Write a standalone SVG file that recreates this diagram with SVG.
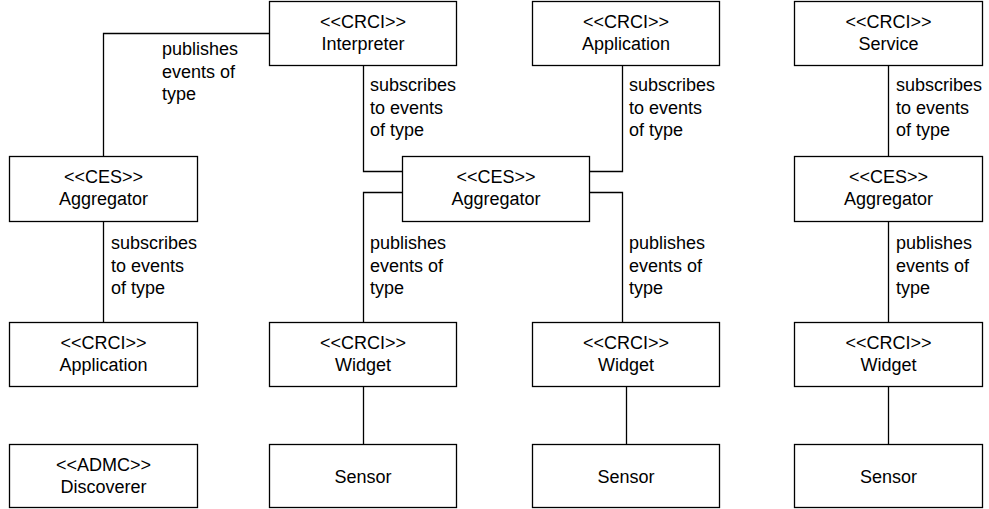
<svg xmlns="http://www.w3.org/2000/svg" width="989" height="509" viewBox="0 0 989 509">
  <style>
    .box { fill: #ffffff; stroke: #000000; stroke-width: 1.3; }
    .wire { fill: none; stroke: #000000; stroke-width: 1.3; }
    text { font-family: "Liberation Sans", Arial, sans-serif; font-size: 18px; fill: #000000; }
    .c { text-anchor: middle; }
  </style>
  <rect width="989" height="509" fill="#ffffff"/>

  <!-- connectors -->
  <g id="connectors">
    <path class="wire" d="M269 33.5 H103.5 V156"/>
    <path class="wire" d="M103.5 221 V322"/>
    <path class="wire" d="M363.5 65 V171.5 H402"/>
    <path class="wire" d="M402 192.5 H363.5 V322"/>
    <path class="wire" d="M622.5 65 V171.5 H589"/>
    <path class="wire" d="M589 192.5 H622.5 V322"/>
    <path class="wire" d="M363.5 386 V444"/>
    <path class="wire" d="M626.5 386 V444"/>
    <path class="wire" d="M888.5 65 V156"/>
    <path class="wire" d="M888.5 221 V322"/>
    <path class="wire" d="M888.5 386 V444"/>

    <text x="162" y="55">publishes</text>
    <text x="162" y="77.5">events of</text>
    <text x="162" y="100">type</text>

    <text x="370" y="91">subscribes</text>
    <text x="370" y="113.5">to events</text>
    <text x="370" y="136">of type</text>

    <text x="629" y="91">subscribes</text>
    <text x="629" y="113.5">to events</text>
    <text x="629" y="136">of type</text>

    <text x="896" y="91">subscribes</text>
    <text x="896" y="113.5">to events</text>
    <text x="896" y="136">of type</text>

    <text x="111" y="249">subscribes</text>
    <text x="111" y="271.5">to events</text>
    <text x="111" y="294">of type</text>

    <text x="370" y="249">publishes</text>
    <text x="370" y="271.5">events of</text>
    <text x="370" y="294">type</text>

    <text x="629" y="249">publishes</text>
    <text x="629" y="271.5">events of</text>
    <text x="629" y="294">type</text>

    <text x="896" y="249">publishes</text>
    <text x="896" y="271.5">events of</text>
    <text x="896" y="294">type</text>
  </g>

  <!-- top row -->
  <g id="interpreter">
    <rect class="box" x="269.5" y="1.5" width="187" height="64"/>
    <text class="c" x="363" y="27.5">&lt;&lt;CRCI&gt;&gt;</text>
    <text class="c" x="363" y="49.5">Interpreter</text>
  </g>
  <g id="application-top">
    <rect class="box" x="532.5" y="1.5" width="187" height="64"/>
    <text class="c" x="626" y="27.5">&lt;&lt;CRCI&gt;&gt;</text>
    <text class="c" x="626" y="49.5">Application</text>
  </g>
  <g id="service">
    <rect class="box" x="794.5" y="1.5" width="188" height="64"/>
    <text class="c" x="888.5" y="27.5">&lt;&lt;CRCI&gt;&gt;</text>
    <text class="c" x="888.5" y="49.5">Service</text>
  </g>

  <!-- aggregators -->
  <g id="aggregator-left">
    <rect class="box" x="9.5" y="156.5" width="188" height="65"/>
    <text class="c" x="103.5" y="183">&lt;&lt;CES&gt;&gt;</text>
    <text class="c" x="103.5" y="205">Aggregator</text>
  </g>
  <g id="aggregator-middle">
    <rect class="box" x="402.5" y="156.5" width="187" height="65"/>
    <text class="c" x="496" y="183">&lt;&lt;CES&gt;&gt;</text>
    <text class="c" x="496" y="205">Aggregator</text>
  </g>
  <g id="aggregator-right">
    <rect class="box" x="794.5" y="156.5" width="188" height="65"/>
    <text class="c" x="888.5" y="183">&lt;&lt;CES&gt;&gt;</text>
    <text class="c" x="888.5" y="205">Aggregator</text>
  </g>

  <!-- third row -->
  <g id="application-left">
    <rect class="box" x="9.5" y="322.5" width="188" height="64"/>
    <text class="c" x="103.5" y="348.5">&lt;&lt;CRCI&gt;&gt;</text>
    <text class="c" x="103.5" y="370.5">Application</text>
  </g>
  <g id="widget-1">
    <rect class="box" x="269.5" y="322.5" width="187" height="64"/>
    <text class="c" x="363" y="348.5">&lt;&lt;CRCI&gt;&gt;</text>
    <text class="c" x="363" y="370.5">Widget</text>
  </g>
  <g id="widget-2">
    <rect class="box" x="532.5" y="322.5" width="187" height="64"/>
    <text class="c" x="626" y="348.5">&lt;&lt;CRCI&gt;&gt;</text>
    <text class="c" x="626" y="370.5">Widget</text>
  </g>
  <g id="widget-3">
    <rect class="box" x="794.5" y="322.5" width="188" height="64"/>
    <text class="c" x="888.5" y="348.5">&lt;&lt;CRCI&gt;&gt;</text>
    <text class="c" x="888.5" y="370.5">Widget</text>
  </g>

  <!-- bottom row -->
  <g id="discoverer">
    <rect class="box" x="9.5" y="444.5" width="188" height="63"/>
    <text class="c" x="103.5" y="470.5">&lt;&lt;ADMC&gt;&gt;</text>
    <text class="c" x="103.5" y="492.5">Discoverer</text>
  </g>
  <g id="sensor-1">
    <rect class="box" x="269.5" y="444.5" width="187" height="63"/>
    <text class="c" x="363" y="483">Sensor</text>
  </g>
  <g id="sensor-2">
    <rect class="box" x="532.5" y="444.5" width="187" height="63"/>
    <text class="c" x="626" y="483">Sensor</text>
  </g>
  <g id="sensor-3">
    <rect class="box" x="794.5" y="444.5" width="188" height="63"/>
    <text class="c" x="888.5" y="483">Sensor</text>
  </g>
</svg>
